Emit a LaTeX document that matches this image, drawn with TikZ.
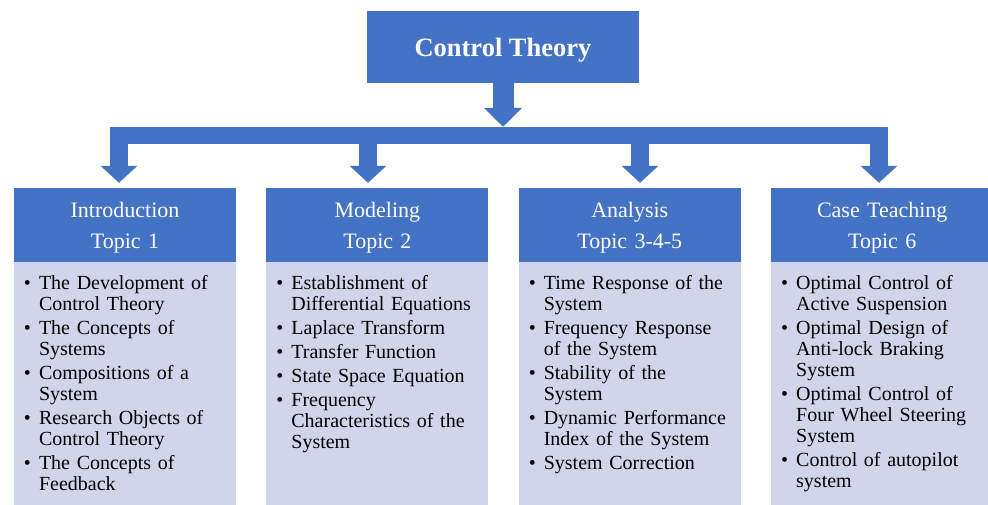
\documentclass[tikz,border=0pt]{standalone}
\usepackage{fontspec}
\setmainfont{Liberation Serif}
\usepackage{enumitem}
\usepackage{tikz}
\usetikzlibrary{positioning,arrows.meta}
\definecolor{topicblue}{HTML}{4472C4}
\definecolor{topiclight}{HTML}{CFD5EA}
\tikzstyle{flow} = [draw=topicblue,line width=18pt,-{Triangle[width=36pt,length=17pt]}]
\setlist[itemize]{label=\textbullet,leftmargin=25pt,labelsep=8pt,itemsep=3pt,parsep=0pt,topsep=0pt,partopsep=0pt}
\newcommand{\topiclist}[1]{\vbox to 245pt{\raggedright\vskip 13pt\begin{itemize}#1\end{itemize}\vfil}}

\begin{document}
\begin{tikzpicture}[x=1pt,y=1pt,
            title/.style = {fill=topicblue, text=white, inner sep=0pt,
              minimum width=272pt, minimum height=72pt, text depth=0pt,
              font=\bfseries\fontsize{26.5}{30}\selectfont},
            head/.style = {fill=topicblue, text=white, inner sep=0pt,
              text width=222pt, align=center, minimum height=74pt,
              text depth=31pt, font=\fontsize{22}{31}\selectfont},
            body/.style = {fill=topiclight, inner sep=0pt, text width=222pt,
              font=\fontsize{20}{21}\selectfont},
            bar/.style = {fill=topicblue, inner sep=0pt,
              minimum width=778pt, minimum height=17pt}]
            \useasboundingbox (0,0) rectangle (988,505);
            \clip (0,0) rectangle (988,505);
            \node[title] (theory) at (503,458) {Control Theory};
            \node[bar] (bar) at (499,369.5) {};
            \draw[flow, line width=21pt, -{Triangle[width=37pt,length=19pt]}] (theory.south) -- (theory.south |- bar.north);
            \node[head] (head1) at (125,280) {Introduction\\Topic 1};
            \node[head] (head2) [right = 30pt of head1] {Modeling\\Topic 2};
            \node[head] (head3) [right = 30pt of head2] {Analysis\\Topic 3-4-5};
            \node[head] (head4) [right = 30pt of head3] {Case Teaching\\Topic 6};
            \coordinate (drop1) at (119,0);
            \coordinate (drop2) at (368,0);
            \coordinate (drop3) at (640,0);
            \coordinate (drop4) at (879,0);
            \draw[flow, shorten >=5pt] (bar.south -| drop1) -- (head1.north -| drop1);
            \draw[flow, shorten >=5pt] (bar.south -| drop2) -- (head2.north -| drop2);
            \draw[flow, shorten >=5pt] (bar.south -| drop3) -- (head3.north -| drop3);
            \draw[flow, shorten >=5pt] (bar.south -| drop4) -- (head4.north -| drop4);
            \node[body] (body1) [below = 0pt of head1] {\topiclist{
              \item The Development of\\Control Theory
              \item The Concepts of\\Systems
              \item Compositions of a\\System
              \item Research Objects of\\Control Theory
              \item The Concepts of\\Feedback}};
            \node[body] (body2) [below = 0pt of head2] {\topiclist{
              \item Establishment of\\Differential Equations
              \item Laplace Transform
              \item Transfer Function
              \item State Space Equation
              \item Frequency\\Characteristics of the\\System}};
            \node[body] (body3) [below = 0pt of head3] {\topiclist{
              \item Time Response of the\\System
              \item Frequency Response\\of the System
              \item Stability of the\\System
              \item Dynamic Performance\\Index of the System
              \item System Correction}};
            \node[body] (body4) [below = 0pt of head4] {\topiclist{
              \item Optimal Control of\\Active Suspension
              \item Optimal Design of\\Anti-lock Braking\\System
              \item Optimal Control of\\Four Wheel Steering\\System
              \item Control of autopilot\\system}};
            \end{tikzpicture}
\end{document}
